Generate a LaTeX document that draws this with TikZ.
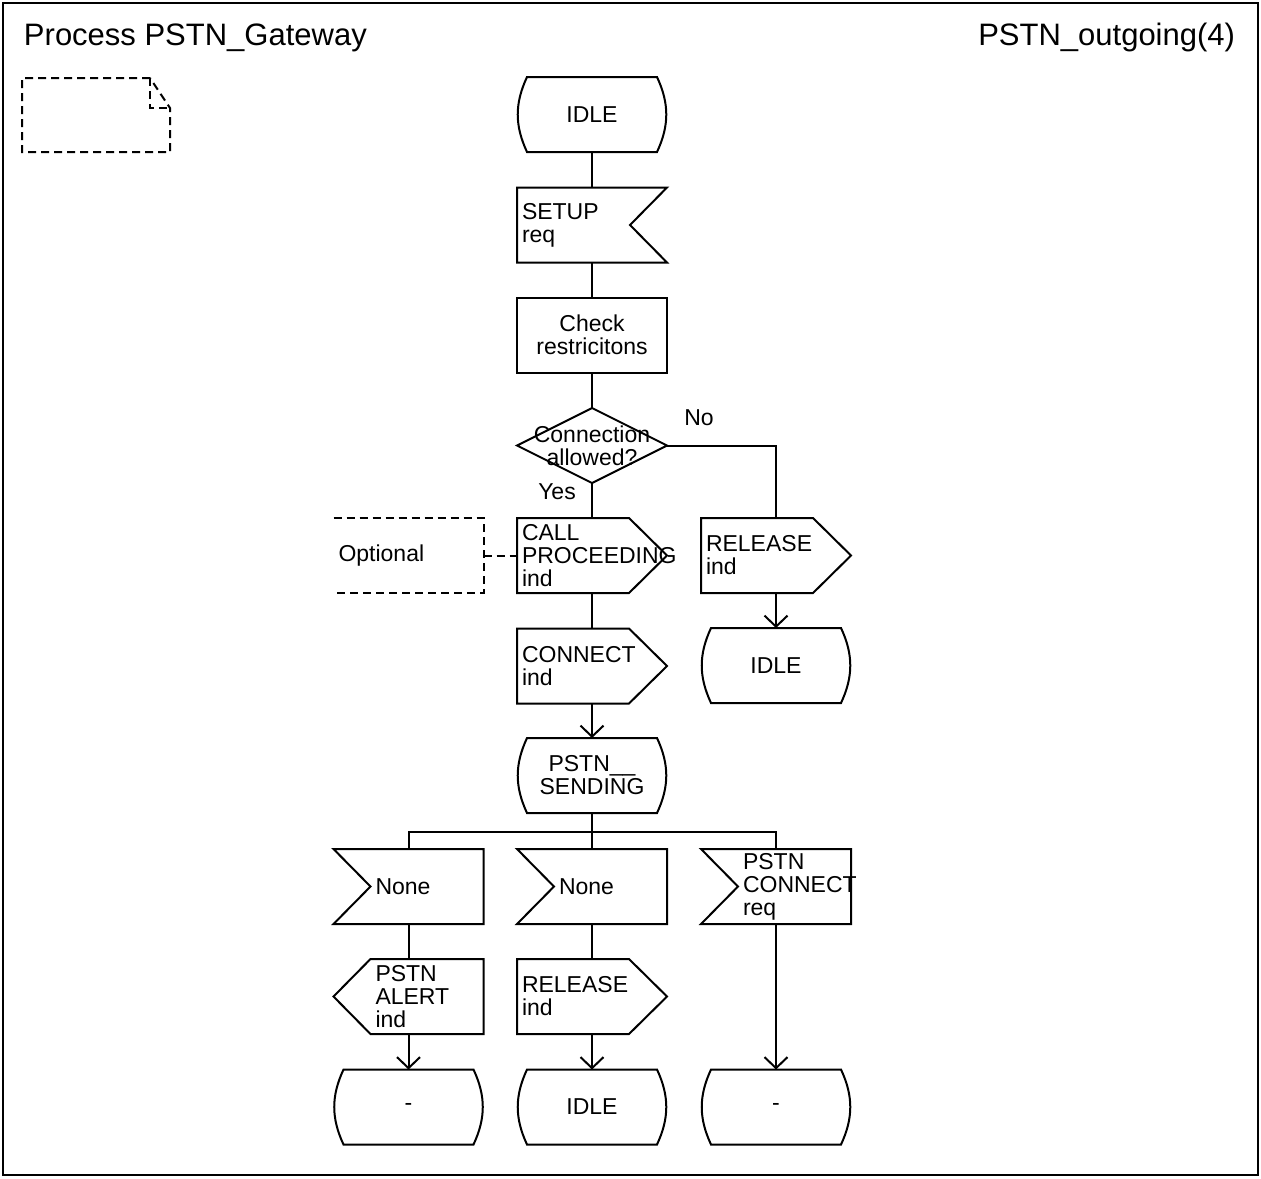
\documentclass[tikz,border=0pt]{standalone}
\usepackage{fontspec}
\setmainfont{Liberation Sans}
\usetikzlibrary{calc,arrows.meta}

\newcommand{\sdlfont}{\fontsize{11.5}{11.5}\selectfont}
\newcommand{\titlefont}{\fontsize{15.5}{18}\selectfont}

% outlines of the SDL symbols, drawn round an invisible node
\newcommand{\sdlstate}[1]{%
  \draw ($(#1.north west)+(10,0)$) -- ($(#1.north east)+(-10,0)$)
    to[bend left=25] ($(#1.south east)+(-10,0)$) -- ($(#1.south west)+(10,0)$)
    to[bend left=25] ($(#1.north west)+(10,0)$) -- cycle;}
\newcommand{\sdlinput}[1]{% notch on the right
  \draw (#1.north west) -- (#1.north east) -- ($(#1.east)+(-37,0)$)
    -- (#1.south east) -- (#1.south west) -- cycle;}
\newcommand{\sdlinputleft}[1]{% notch on the left
  \draw (#1.north west) -- (#1.north east) -- (#1.south east)
    -- (#1.south west) -- ($(#1.west)+(37,0)$) -- cycle;}
\newcommand{\sdloutput}[1]{% points to the right
  \draw (#1.north west) -- ($(#1.north east)+(-38,0)$) -- (#1.east)
    -- ($(#1.south east)+(-38,0)$) -- (#1.south west) -- cycle;}
\newcommand{\sdloutputleft}[1]{% points to the left
  \draw ($(#1.north west)+(37,0)$) -- (#1.north east) -- (#1.south east)
    -- ($(#1.south west)+(37,0)$) -- (#1.west) -- cycle;}

\tikzset{
  sym/.style={minimum width=74pt,minimum height=36.5pt,inner sep=0pt,font=\sdlfont},
  ctext/.style={sym,align=center},
  ltext/.style={sym,text width=70pt,align=left},
  ntext/.style={sym,text width=33pt,align=left},
  cmt/.style={dash pattern=on 4pt off 2.5pt},
  flow/.style={-{Straight Barb[length=5.5pt,width=11.5pt]}}
}

\begin{document}
\begin{tikzpicture}[x=0.5pt,y=-0.5pt,line width=1pt]
    \useasboundingbox (0,0) rectangle (1261,1178);
    \draw (3,3) rectangle (1257.5,1175);
    \node [anchor=base west,inner sep=0pt,font=\titlefont] (proc) at (23,45) {Process PSTN\_Gateway};
    \node [anchor=base east,inner sep=0pt,font=\titlefont] (page) at (1236,45) {PSTN\_outgoing(4)};

    % text symbol
    \draw [cmt] (150,78) -- (22,78) -- (22,152) -- (170,152) -- (170,108) -- cycle;
    \draw [cmt] (150,78) |- (170,108);

    % main column
    \node [ctext] (idle1) at (592,114.5) {IDLE};
    \node [ltext] (setup) at (592,225) {SETUP\\req};
    \node [ctext] (check) at (592,335) {Check\\restricitons};
    \node [ctext] (allow) at (592,445.5) {Connection\\allowed?};
    \node [ltext] (callp) at (592,555.5) {CALL\\PROCEEDING\\ind};
    \node [ltext] (conn) at (592,666) {CONNECT\\ind};
    \node [ctext] (sending) at (592,775.5) {PSTN\_\_\\SENDING};
    \node [ltext] (opt) at (408.5,555.5) {Optional};
    \node [ltext] (rel1) at (776,555.5) {RELEASE\\ind};
    \node [ctext] (idle2) at (776,665.5) {IDLE};
    \node [font=\sdlfont] (yes) at (557,492) {Yes};
    \node [font=\sdlfont] (no) at (699,418) {No};

    % after PSTN__SENDING
    \node [ntext] (none1) at (408.5,886.5) {None};
    \node [ntext] (none2) at (592,886.5) {None};
    \node [ntext] (pconn) at (776,886.5) {PSTN\\CONNECT\\req};
    \node [ntext] (alert) at (408.5,996.5) {PSTN\\ALERT\\ind};
    \node [ltext] (rel2) at (592,996.5) {RELEASE\\ind};
    \node [ctext] (dash1) at (408.5,1107) {-};
    \node [ctext] (idle3) at (592,1107) {IDLE};
    \node [ctext] (dash2) at (776,1107) {-};
    \coordinate (fork) at (592,832);

    \foreach \n in {idle1,idle2,sending,dash1,idle3,dash2} {\sdlstate{\n}}
    \foreach \n in {callp,conn,rel1,rel2} {\sdloutput{\n}}
    \foreach \n in {none1,none2,pconn} {\sdlinputleft{\n}}
    \sdlinput{setup}
    \sdloutputleft{alert}
    \draw (check.north west) rectangle (check.south east);
    \draw (allow.north) -- (allow.east) -- (allow.south) -- (allow.west) -- cycle;
    \draw [cmt] (opt.north west) -- (opt.north east) -- (opt.south east) -- (opt.south west);

    % connections
    \draw (idle1.south) -- (setup.north);
    \draw (setup.south) -- (check.north);
    \draw (check.south) -- (allow.north);
    \draw (allow.south) -- (callp.north);
    \draw (allow.east) -| (rel1.north);
    \draw [cmt] (opt.east) -- (callp.west);
    \draw (callp.south) -- (conn.north);
    \draw [flow] (conn.south) -- (sending.north);
    \draw [flow] (rel1.south) -- (idle2.north);
    \draw (sending.south) -- (fork);
    \draw (none1.north) |- (fork) -| (pconn.north);
    \draw (fork) -- (none2.north);
    \foreach \a/\b/\c in {none1/alert/dash1,none2/rel2/idle3} {
        \draw (\a.south) -- (\b.north);
        \draw [flow] (\b.south) -- (\c.north);
    }
    \draw [flow] (pconn.south) -- (dash2.north);
\end{tikzpicture}
\end{document}
